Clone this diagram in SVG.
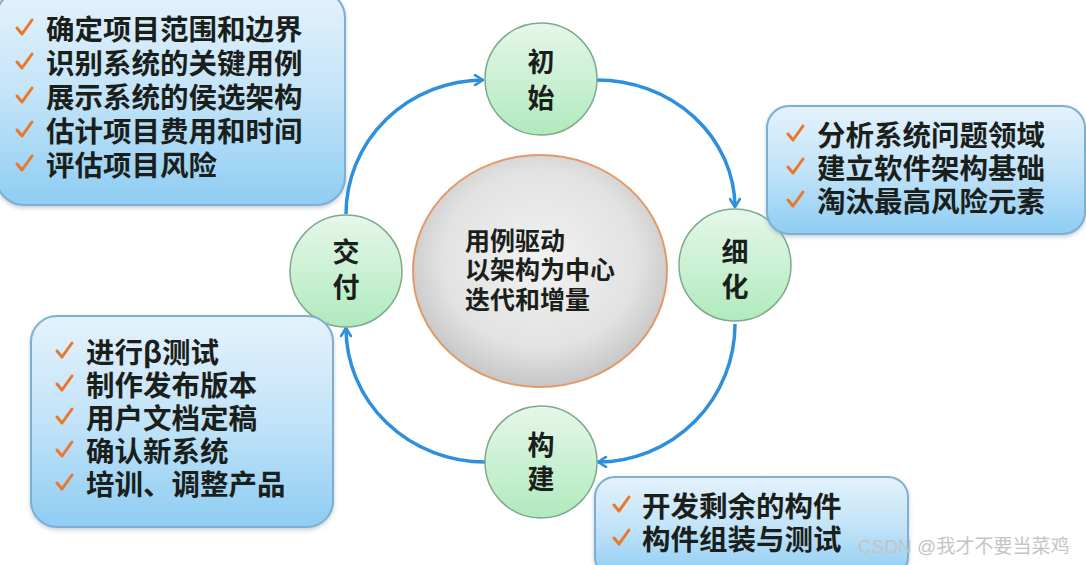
<svg xmlns="http://www.w3.org/2000/svg" xmlns:xlink="http://www.w3.org/1999/xlink" width="1086" height="565" viewBox="0 0 1086 565">
  <style>
    .box { fill: url(#boxGrad); stroke: #7eaed0; stroke-width: 2; filter: url(#shadow); }
    .node { fill: url(#nodeGrad); stroke: #7fa98a; stroke-width: 1.5; }
    .txt { font-family: "Noto Sans CJK SC", "Noto Sans", sans-serif; font-weight: 700; fill: #1b1f1b; }
    .bt { font-size: 28.5px; }
    .nt { font-size: 27px; text-anchor: middle; }
    .ct { font-size: 25px; }
    .ck { fill: none; stroke: #e8782c; stroke-width: 3; stroke-linecap: round; stroke-linejoin: round; }
    .conn { fill: none; stroke: #2e8fdc; stroke-width: 3.5; marker-end: url(#arr); }
    .wm { font-family: "Liberation Sans", "Noto Sans CJK SC", sans-serif; font-size: 19px; fill: #c4c4c4; }
  </style>
  <defs>
    <linearGradient id="boxGrad" x1="0" y1="0" x2="0" y2="1">
      <stop offset="0" stop-color="#e4f2fc"/>
      <stop offset="0.5" stop-color="#c2e3f8"/>
      <stop offset="1" stop-color="#8ecdf3"/>
    </linearGradient>
    <linearGradient id="nodeGrad" x1="0" y1="0" x2="0" y2="1">
      <stop offset="0" stop-color="#e6f7ea"/>
      <stop offset="1" stop-color="#b0eabd"/>
    </linearGradient>
    <radialGradient id="centerGrad" cx="0.5" cy="0.45" r="0.55">
      <stop offset="0" stop-color="#f2f2f2"/>
      <stop offset="0.7" stop-color="#e2e2e2"/>
      <stop offset="1" stop-color="#c6c6c6"/>
    </radialGradient>
    <filter id="shadow" x="-10%" y="-10%" width="120%" height="120%">
      <feDropShadow dx="0" dy="2" stdDeviation="2" flood-color="#8aa0b0" flood-opacity="0.5"/>
    </filter>
    <marker id="arr" viewBox="0 0 12 12" refX="10" refY="6" markerWidth="12" markerHeight="12" markerUnits="userSpaceOnUse" orient="auto">
      <path d="M2,1 L10,6 L2,11" fill="none" stroke="#2e8fdc" stroke-width="2.6" stroke-linecap="round" stroke-linejoin="round"/>
    </marker>
    <path id="check" class="ck" d="M0,0 L5,6 L15,-8"/>
  </defs>

  <rect width="1086" height="565" fill="#ffffff"/>

  <g id="connectors">
    <path class="conn" d="M346,214 A138,134 0 0 1 483,80"/>
    <path class="conn" d="M597,80 A138,128 0 0 1 735,207"/>
    <path class="conn" d="M735,324 A138,138 0 0 1 598,462"/>
    <path class="conn" d="M485,462 A139,134 0 0 1 346,328"/>
  </g>

  <g id="center">
    <ellipse cx="540" cy="271" rx="127" ry="116" fill="url(#centerGrad)" stroke="#e39a68" stroke-width="2"/>
    <text class="txt ct"><tspan x="465" y="250">用例驱动</tspan><tspan x="465" y="279">以架构为中心</tspan><tspan x="465" y="309">迭代和增量</tspan></text>
  </g>

  <g id="node-chushi">
    <circle class="node" cx="541" cy="79" r="56"/>
    <text class="txt nt"><tspan x="541" y="72">初</tspan><tspan x="541" y="108">始</tspan></text>
  </g>
  <g id="node-xihua">
    <circle class="node" cx="735" cy="265" r="56"/>
    <text class="txt nt"><tspan x="735" y="262">细</tspan><tspan x="735" y="297">化</tspan></text>
  </g>
  <g id="node-goujian">
    <circle class="node" cx="541" cy="462" r="56"/>
    <text class="txt nt"><tspan x="541" y="455">构</tspan><tspan x="541" y="489">建</tspan></text>
  </g>
  <g id="node-jiaofu">
    <circle class="node" cx="346" cy="271" r="56"/>
    <text class="txt nt"><tspan x="346" y="262">交</tspan><tspan x="346" y="297">付</tspan></text>
  </g>

  <g id="box-chushi">
    <rect class="box" x="-4" y="-10" width="349" height="215" rx="28"/>
    <use href="#check" x="17" y="28"/>
    <use href="#check" x="17" y="62"/>
    <use href="#check" x="17" y="96"/>
    <use href="#check" x="17" y="130"/>
    <use href="#check" x="17" y="164"/>
    <text class="txt bt"><tspan x="46" y="40">确定项目范围和边界</tspan><tspan x="46" y="74">识别系统的关键用例</tspan><tspan x="46" y="108">展示系统的侯选架构</tspan><tspan x="46" y="142">估计项目费用和时间</tspan><tspan x="46" y="176">评估项目风险</tspan></text>
  </g>

  <g id="box-xihua">
    <rect class="box" x="767" y="106" width="318" height="128" rx="22"/>
    <use href="#check" x="788" y="134"/>
    <use href="#check" x="788" y="167"/>
    <use href="#check" x="788" y="200"/>
    <text class="txt bt"><tspan x="817" y="146">分析系统问题领域</tspan><tspan x="817" y="179">建立软件架构基础</tspan><tspan x="817" y="212">淘汰最高风险元素</tspan></text>
  </g>

  <g id="box-jiaofu">
    <rect class="box" x="31" y="316" width="302" height="211" rx="26"/>
    <use href="#check" x="57" y="351"/>
    <use href="#check" x="57" y="384"/>
    <use href="#check" x="57" y="417"/>
    <use href="#check" x="57" y="450"/>
    <use href="#check" x="57" y="483"/>
    <text class="txt bt"><tspan x="86" y="363">进行β测试</tspan><tspan x="86" y="396">制作发布版本</tspan><tspan x="86" y="429">用户文档定稿</tspan><tspan x="86" y="462">确认新系统</tspan><tspan x="86" y="495">培训、调整产品</tspan></text>
  </g>

  <g id="box-goujian">
    <rect class="box" x="595" y="477" width="313" height="100" rx="20"/>
    <use href="#check" x="614" y="505"/>
    <use href="#check" x="614" y="538"/>
    <text class="txt bt"><tspan x="642" y="517">开发剩余的构件</tspan><tspan x="642" y="550">构件组装与测试</tspan></text>
  </g>

  <text class="wm" x="858" y="553">CSDN @我才不要当菜鸡</text>
</svg>
